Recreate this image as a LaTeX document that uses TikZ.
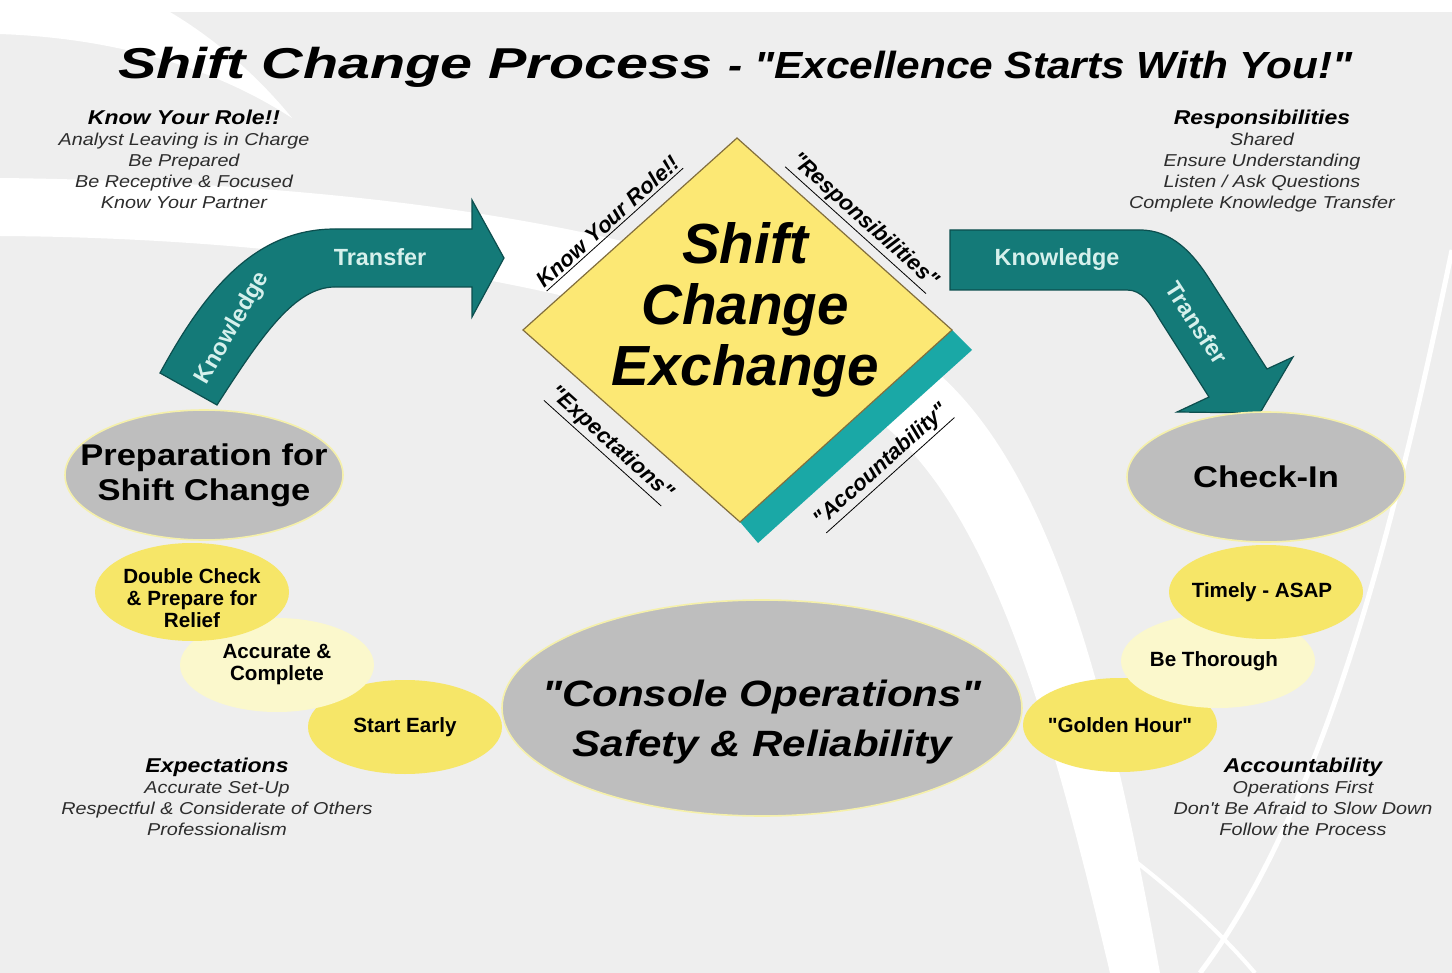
\documentclass[tikz,border=0pt]{standalone}
\usepackage{fontspec}
\setmainfont{Liberation Sans}[Ligatures=TeXOff]
\newfontfamily\widefont[FakeStretch=1.15]{Liberation Sans}
\usepackage{graphicx}
\usetikzlibrary{shapes.geometric}

\definecolor{bggray}{RGB}{238,238,238}
\definecolor{teal1}{RGB}{20,122,120}
\definecolor{tealdark}{RGB}{12,78,78}
\definecolor{tealband}{RGB}{26,168,166}
\definecolor{diamondyel}{RGB}{252,232,116}
\definecolor{diamondrim}{RGB}{130,110,60}
\definecolor{ovalgray}{RGB}{190,190,190}
\definecolor{ovalrim}{RGB}{245,240,170}
\definecolor{ovalyel}{RGB}{246,230,104}
\definecolor{ovalpale}{RGB}{251,248,204}
\definecolor{arrowtext}{RGB}{214,240,236}
\definecolor{notegray}{RGB}{45,45,45}

\tikzstyle{bigoval} = [ellipse, draw=ovalrim, line width=0.8pt, fill=ovalgray, inner sep=0pt]
\tikzstyle{bigtext} = [inner sep=0pt, align=center, font=\widefont\bfseries\fontsize{15}{17.5}\selectfont]
\tikzstyle{smalloval} = [ellipse, inner sep=0pt, minimum width=97pt, minimum height=47pt]
\tikzstyle{smalltext} = [inner sep=0pt, align=center, font=\bfseries\fontsize{10.3}{11}\selectfont]
\tikzstyle{note} = [anchor=north, align=center, inner sep=0pt, text=notegray, font=\widefont\itshape\fontsize{8.6}{10.5}\selectfont]
\tikzstyle{edgelabel} = [inner sep=0pt, font=\bfseries\itshape\fontsize{11}{12}\selectfont]
\tikzstyle{arrowlabel} = [inner sep=0pt, text=arrowtext, font=\bfseries\fontsize{11.7}{12}\selectfont]
\tikzstyle{tealarrow} = [fill=teal1, draw=tealdark, line width=0.6pt]

\begin{document}
\begin{tikzpicture}[x=0.5pt, y=-0.5pt]
\useasboundingbox (0,0) rectangle (1452,973);
\fill[bggray] (0,0) rectangle (1452,973);

\fill[white] (0,0) rectangle (1452,12);
\fill[white] (0,12) -- (170,12) .. controls (225,45) and (265,85) .. (292,118) .. controls (210,65) and (110,38) .. (0,34) -- cycle;
\fill[white] (0,178) .. controls (350,182) and (700,225) .. (900,345) .. controls (1050,435) and (1110,700) .. (1160,973) -- (1110,973) .. controls (1050,720) and (985,480) .. (855,405) .. controls (690,300) and (350,238) .. (0,236) -- cycle;
\draw[white, line width=2.5pt] (1452,250) .. controls (1400,500) and (1330,800) .. (1200,973);
\draw[white, line width=2pt] (1080,820) .. controls (1150,870) and (1210,920) .. (1255,973);

\node[inner sep=0pt, anchor=base west, font=\bfseries\itshape\fontsize{21.6}{24}\selectfont] (title) at (118,79) {\scalebox{1.33}[1]{Shift Change Process}};
\node[inner sep=0pt, anchor=base west, font=\bfseries\itshape\fontsize{18.9}{22}\selectfont] (motto) at (728,79) {\scalebox{1.12}[1]{- "Excellence Starts With You!"}};

\node[note] (rolenote) at (184,110) {{\fontsize{10}{10.5}\selectfont\bfseries\color{black}Know Your Role!!}\\Analyst Leaving is in Charge\\Be Prepared\\Be Receptive \& Focused\\Know Your Partner};
\node[note] (respnote) at (1262,110) {{\fontsize{10}{10.5}\selectfont\bfseries\color{black}Responsibilities}\\Shared\\Ensure Understanding\\Listen / Ask Questions\\Complete Knowledge Transfer};
\node[note] (expnote) at (217,758) {{\fontsize{10}{10.5}\selectfont\bfseries\color{black}Expectations}\\Accurate Set-Up\\Respectful \& Considerate of Others\\Professionalism};
\node[note] (accnote) at (1303,758) {{\fontsize{10}{10.5}\selectfont\bfseries\color{black}Accountability}\\Operations First\\Don't Be Afraid to Slow Down\\Follow the Process};

\path[tealarrow] (160,373) .. controls (205,290) and (255,229) .. (335,229) -- (472,229) -- (472,200) -- (504,258) -- (472,317) -- (472,287) -- (335,287) .. controls (295,287) and (262,335) .. (217,405) -- cycle;
\path[tealarrow] (950,230) -- (1140,230) .. controls (1172,230) and (1193,253) .. (1210,280) -- (1267,369) -- (1293,357) -- (1260,413) -- (1177,412) -- (1209,397) -- (1160,320) .. controls (1150,303) and (1142,290) .. (1127,290) -- (950,290) -- cycle;
\node[arrowlabel] (transferL) at (380,257) {Transfer};
\node[arrowlabel, rotate=60] (knowL) at (233,328) {Knowledge};
\node[arrowlabel] (knowR) at (1057,260) {Knowledge};
\node[arrowlabel, rotate=-57] (transferR) at (1197,323) {Transfer};

\path[fill=tealband] (952,330) -- (972,350) -- (758,543) -- (740,522) -- cycle;
\path[fill=diamondyel, draw=diamondrim, line width=0.6pt] (737,138) -- (952,330) -- (740,522) -- (523,330) -- cycle;
\node[inner sep=0pt, anchor=north, align=center, font=\bfseries\itshape\fontsize{28.3}{30.5}\selectfont] (exchange) at (745,222) {Shift\\Change\\Exchange};

\node[edgelabel, rotate=42] (roleedge) at (609,223) {\underline{Know Your Role!!}};
\node[edgelabel, rotate=-42] (respedge) at (863,222) {\underline{"Responsibilities"}};
\node[edgelabel, rotate=-42] (expedge) at (610,445) {\underline{"Expectations"}};
\node[edgelabel, rotate=42] (accedge) at (883,467) {\underline{"Accountability"}};

\node[smalloval, fill=ovalyel] (startearly) at (405,727) {};
\node[smalltext] at (startearly.center) {Start Early};
\node[smalloval, fill=ovalpale] (accurate) at (277,665) {};
\node[smalltext] at (accurate.center) {Accurate \&\\Complete};
\node[smalloval, fill=ovalyel, minimum height=49pt] (doublecheck) at (192,592) {};
\node[smalltext] at ([yshift=-3pt]doublecheck.center) {Double Check\\\& Prepare for\\Relief};
\node[bigoval, minimum width=139pt, minimum height=65pt] (prep) at (204,475) {};
\node[bigtext] at (prep.center) {Preparation for\\Shift Change};

\node[smalloval, fill=ovalyel] (golden) at (1120,725) {};
\node[smalltext] at (golden.center) {"Golden Hour"};
\node[smalloval, fill=ovalpale] (thorough) at (1218,661) {};
\node[smalltext] at ([xshift=-2pt]thorough.center) {Be Thorough};
\node[smalloval, fill=ovalyel] (timely) at (1266,592) {};
\node[smalltext] at ([xshift=-2pt]timely.center) {Timely - ASAP};
\node[bigoval, minimum width=139pt, minimum height=65pt] (checkin) at (1266,477) {};
\node[bigtext] at (checkin.center) {Check-In};

\node[bigoval, minimum width=260pt, minimum height=108pt] (console) at (762,708) {};
\node[inner sep=0pt, align=center, font=\widefont\bfseries\itshape\fontsize{18.3}{25}\selectfont] (consoletext) at ([yshift=-7pt]console.center) {"Console Operations"\\Safety \& Reliability};
\end{tikzpicture}
\end{document}
